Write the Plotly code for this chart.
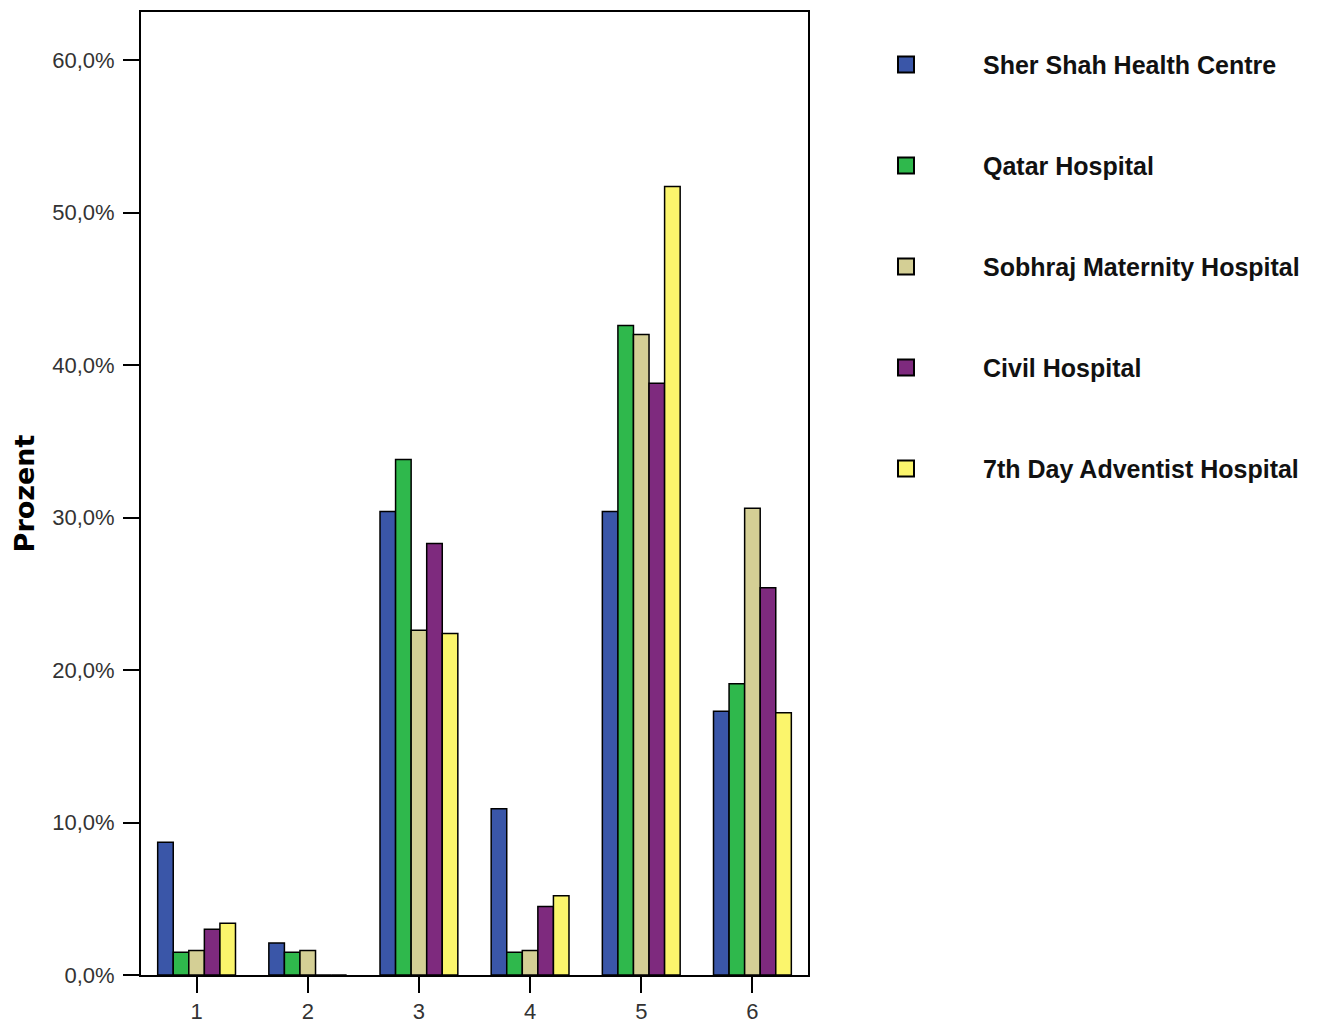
import plotly.graph_objects as go

categories = ["1", "2", "3", "4", "5", "6"]
series_names = ["Sher Shah Health Centre", "Qatar Hospital", "Sobhraj Maternity Hospital",
                "Civil Hospital", "7th Day Adventist Hospital"]
sher_shah = [8.7, 2.1, 30.4, 10.9, 30.4, 17.3]
qatar = [1.5, 1.5, 33.8, 1.5, 42.6, 19.1]
sobhraj = [1.6, 1.6, 22.6, 1.6, 42.0, 30.6]
civil = [3.0, 0.0, 28.3, 4.5, 38.8, 25.4]
adventist = [3.4, 0.0, 22.4, 5.2, 51.7, 17.2]
series_values = [sher_shah, qatar, sobhraj, civil, adventist]
colors = ["#3a56a8", "#2fb84c", "#d4cf95", "#7e2a7e", "#fbf56c"]
y_ticks = [0, 10, 20, 30, 40, 50, 60]
y_tick_labels = ["0,0%", "10,0%", "20,0%", "30,0%", "40,0%", "50,0%", "60,0%"]

fig = go.Figure()
for name, vals, col in zip(series_names, series_values, colors):
    fig.add_trace(go.Bar(
        x=categories, y=vals, name=name, legendgroup=name, showlegend=False,
        marker=dict(color=col, line=dict(color="#000000", width=1.5)),
    ))
# legend entries (larger square swatches like the original)
for name, col in zip(series_names, colors):
    fig.add_trace(go.Scatter(
        x=[None], y=[None], mode="markers", name=name, legendgroup=name,
        marker=dict(symbol="square", size=18, color=col, line=dict(color="#000000", width=2)),
    ))

fig.update_layout(
    width=1306, height=1023,
    margin=dict(l=133, r=506, t=4, b=56),
    plot_bgcolor="white", paper_bgcolor="white",
    barmode="group", bargap=0.3, bargroupgap=0,
    font=dict(family="Liberation Sans, Arial, sans-serif", size=22, color="#333333"),
    showlegend=True,
    legend=dict(
        x=1.0315, y=0.969, xanchor="left", yanchor="top",
        tracegroupgap=65.5, itemwidth=144,
        font=dict(family="Liberation Sans, Arial, sans-serif", size=25, color="#111111", weight="bold"),
        bgcolor="rgba(0,0,0,0)",
    ),
    xaxis=dict(
        showline=True, linecolor="#000000", linewidth=2, mirror=True,
        ticks="outside", ticklen=16, tickcolor="#000000", tickwidth=2,
        tickfont=dict(size=22, color="#333333"),
        showgrid=False, automargin=False,
    ),
    yaxis=dict(
        range=[0, 63.15], tickvals=y_ticks, ticktext=y_tick_labels,
        showline=True, linecolor="#000000", linewidth=2, mirror=True,
        ticks="outside", ticklen=16, tickcolor="#000000", tickwidth=2,
        ticklabelstandoff=4,
        tickfont=dict(size=22, color="#333333"),
        showgrid=False, zeroline=False, automargin=False,
        title=dict(text="<b>Prozent</b>",
                   font=dict(family="DejaVu Sans, Verdana, sans-serif", size=27, color="#000000"),
                   standoff=10),
    ),
)

fig.write_html("out.html")
